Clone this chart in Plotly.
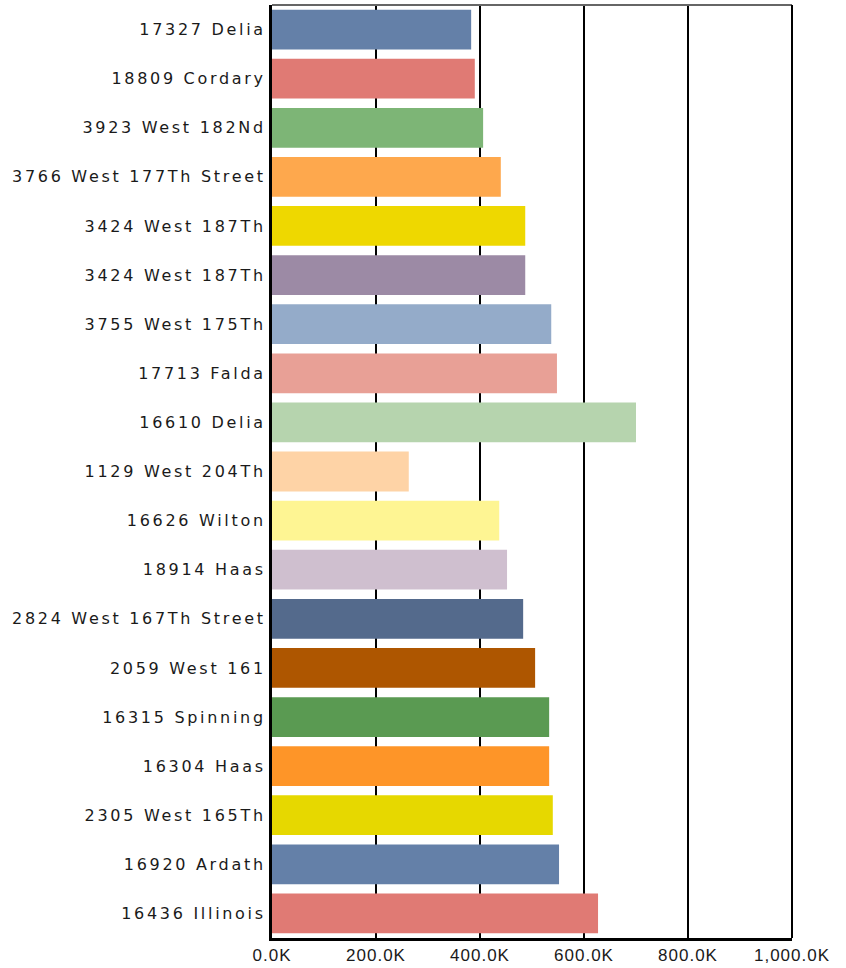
import plotly.graph_objects as go

categories = [
    "17327 Delia", "18809 Cordary", "3923 West 182Nd", "3766 West 177Th Street",
    "3424 West 187Th", "3424 West 187Th", "3755 West 175Th", "17713 Falda",
    "16610 Delia", "1129 West 204Th", "16626 Wilton", "18914 Haas",
    "2824 West 167Th Street", "2059 West 161", "16315 Spinning", "16304 Haas",
    "2305 West 165Th", "16920 Ardath", "16436 Illinois",
]
values = [383, 390, 406, 440, 487, 487, 537, 548, 700, 263,
          437, 452, 483, 506, 533, 533, 540, 552, 627]
colors = [
    "#6480a8", "#e07a74", "#7db576", "#fea84d", "#eed800", "#9c8aa5",
    "#94abc9", "#e8a096", "#b6d4ae", "#fed3a6", "#fef593", "#cfbfcf",
    "#546a8c", "#ae5600", "#5a9a52", "#fe9528", "#e6d800", "#6480a8", "#e07a74",
]
x_tick_vals = [0, 200, 400, 600, 800, 1000]
x_tick_text = ["0.0K", "200.0K", "400.0K", "600.0K", "800.0K", "1,000.0K"]

idx = list(range(len(categories)))

fig = go.Figure(go.Bar(
    x=values, y=idx, orientation="h",
    marker=dict(color=colors, line=dict(width=0)),
    hovertext=categories,
))

fig.update_layout(
    width=846, height=968,
    margin=dict(l=272, r=54, t=5, b=30, autoexpand=False),
    plot_bgcolor="white", paper_bgcolor="white",
    bargap=0.19,
    showlegend=False,
    font=dict(family="DejaVu Sans", color="#1a1a1a"),
    shapes=[
        dict(type="line", xref="paper", yref="paper", x0=0, x1=1, y0=1, y1=1,
             line=dict(color="#666666", width=2), layer="above"),
        dict(type="line", xref="paper", yref="paper", x0=1, x1=1, y0=0, y1=1,
             line=dict(color="black", width=2), layer="above"),
    ],
)
fig.update_xaxes(
    range=[0, 1000],
    tickvals=x_tick_vals,
    ticktext=['<span style="letter-spacing:1px">%s</span>' % t for t in x_tick_text],
    tickfont=dict(family="Liberation Sans, Arial", size=17, color="#1a1a1a"),
    showgrid=True, gridcolor="black", gridwidth=2,
    showline=True, linecolor="black", linewidth=3,
    ticks="inside", ticklen=4, tickwidth=2, tickcolor="black",
    zeroline=False, automargin=False,
)
fig.update_yaxes(
    range=[18.5, -0.5],
    tickvals=idx,
    ticktext=['<span style="letter-spacing:2.7px">%s</span>' % c for c in categories],
    tickfont=dict(family="DejaVu Sans", size=16, color="#1a1a1a"),
    showgrid=False,
    showline=True, linecolor="black", linewidth=3,
    ticks="", ticklabelstandoff=0,
    zeroline=False, automargin=False,
)

fig.write_html("out.html", config={"displayModeBar": False},
               post_script="document.body.style.margin='0';")
